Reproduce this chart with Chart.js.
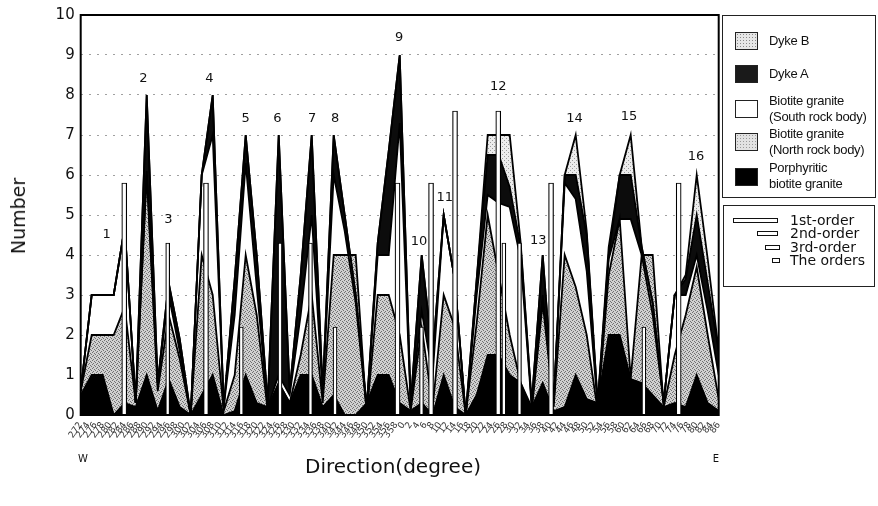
<!DOCTYPE html>
<html>
<head>
<meta charset="utf-8">
<script src="https://cdn.jsdelivr.net/npm/chart.js@4.4.1/dist/chart.umd.min.js"></script>
<style>
  html, body { margin: 0; padding: 0; background: #fff; }
  #wrap { position: relative; width: 878px; height: 506px; overflow: hidden; font-family: "DejaVu Sans", sans-serif; color: #111; }
  canvas { position: absolute; left: 0; top: 0; }
  .t { position: absolute; white-space: nowrap; }
  .box { position: absolute; border: 1.5px solid #222; box-sizing: border-box; }
  .sw { position: absolute; width: 23px; height: 18px; border: 1px solid #222; box-sizing: border-box; }
  .lg { position: absolute; font-family: "Liberation Sans", sans-serif; font-size: 13px; line-height: 16px; letter-spacing: -0.3px; color: #111; }
  .bsw { position: absolute; height: 5px; background: #fff; border: 1px solid #111; box-sizing: border-box; }
  .ol { position: absolute; font-size: 14px; line-height: 14px; color: #111; }
</style>
</head>
<body>
<div id="wrap">
  <canvas id="c" width="878" height="506"></canvas>
  <div class="t" style="left:18px; top:216px; font-size:19px; transform: translate(-50%,-50%) rotate(-90deg);">Number</div>
  <div class="t" style="left:393px; top:466px; font-size:20px; transform: translate(-50%,-50%);">Direction(degree)</div>
  <div class="t" style="left:83px; top:458px; font-size:10px; transform: translate(-50%,-50%);">W</div>
  <div class="t" style="left:716px; top:458px; font-size:10px; transform: translate(-50%,-50%);">E</div>

  <div class="box" style="left:722px; top:15px; width:154px; height:183px;"></div>
  <div class="sw" style="left:735px; top:32px; background-color:#e6e6e6; background-image: radial-gradient(#8a8a8a 0.7px, transparent 0.9px); background-size: 3px 3px;"></div>
  <div class="lg" style="left:769px; top:33px;">Dyke B</div>
  <div class="sw" style="left:735px; top:65px; background:#1a1a1a;"></div>
  <div class="lg" style="left:769px; top:66px;">Dyke A</div>
  <div class="sw" style="left:735px; top:100px; background:#fff;"></div>
  <div class="lg" style="left:769px; top:93px;">Biotite granite<br>(South rock body)</div>
  <div class="sw" style="left:735px; top:133px; background-color:#e2e2e2; background-image: radial-gradient(#9a9a9a 0.7px, transparent 0.9px); background-size: 3px 3px;"></div>
  <div class="lg" style="left:769px; top:126px;">Biotite granite<br>(North rock body)</div>
  <div class="sw" style="left:735px; top:168px; background:#000;"></div>
  <div class="lg" style="left:769px; top:160px;">Porphyritic<br>biotite granite</div>

  <div class="box" style="left:723px; top:205px; width:152px; height:82px;"></div>
  <div class="bsw" style="left:733px; top:218px; width:45px;"></div>
  <div class="ol" style="left:790px; top:213px;">1st-order</div>
  <div class="bsw" style="left:757px; top:231px; width:21px;"></div>
  <div class="ol" style="left:790px; top:226px;">2nd-order</div>
  <div class="bsw" style="left:765px; top:245px; width:15px;"></div>
  <div class="ol" style="left:790px; top:240px;">3rd-order</div>
  <div class="bsw" style="left:772px; top:258px; width:8px;"></div>
  <div class="ol" style="left:790px; top:253px;">The orders</div>
</div>
<script>
// ---- data (59 direction classes, W -> E) ----
const porphyritic = [0.5,1,1,0,0.3,0.2,1,0.1,0.9,0.2, 0,0.5,1,0,0.1,1,0.3,0.2,0.8,0.3, 1,1,0.2,0.5,0,0,0.3,1,1,0.3, 0.1,0.3,0,1,0.2,0,0.5,1.5,1.5,1, 0.8,0.2,0.8,0.1,0.2,1,0.4,0.3,2,2, 0.9,0.8,0.5,0.2,0.3,0.2,1,0.3,0.1];
const northBody   = [0.6,2,2,2,2.7,0.3,6,0.6,2.5,1.4, 0,4,3,0.1,1,4,2.5,0.1,0.8,0.3, 1.5,3,0.3,4,4,4,0,3,3,2, 0.1,2.2,0.2,3,2.2,0,2.3,5,3.5,2, 0.8,0.1,2.8,0.2,4,3.2,2,0.1,3.5,4.9, 0.9,4,4,0.2,1.5,2.5,3.7,2,0.4];
const southBody   = [0.6,3,3,3,4.7,0.3,6.1,0.8,3,1.6, 0,6,7,0.2,2.5,6.3,3.2,0.2,1,0.5, 2.5,5,0.5,6,4.6,2.8,0.1,4,4,7.3, 0.2,2.6,1,5,3.4,0,3,5.5,5.3,5.2, 3.9,0.2,3,0.3,5.8,5.4,3.6,0.2,3.9,4.9, 4.9,4,2.5,0.3,3,3,4,2.6,1];
const dykeA       = [0.6,3,3,3,4.7,0.3,8,0.8,3.3,1.9, 0,6,8,0.2,3.4,7,4,0.3,7,0.6, 3.5,7,0.6,7,5,3,0.2,4.3,6.6,9, 0.3,4,1.5,5,3.4,0,3.4,6.5,6.5,5.7, 4.2,0.3,4,0.3,6,6,4.5,0.3,4,6, 6,4.2,2.8,0.3,3,3.4,5,3.3,1.6];
const dykeB       = [0.6,3,3,3,4.7,0.3,8,0.8,3.3,1.9, 0,6,8,0.2,3.4,7,4,0.3,7,0.6, 3.5,7,0.6,7,5,3,0.2,4.3,6.6,9, 0.3,4,1.5,5,3.4,0,3.4,7,7,7, 4.3,0.3,4,0.3,6,7,4.6,0.3,4.2,6, 7,4.2,2.8,0.3,3,3.5,6,3.9,1.6];

// fault orders (position in direction classes, height)
const order1X = [34.03, 37.96];              const order1Y = [7.6, 7.6];
const order2X = [3.96, 11.39, 28.8, 31.85, 42.76, 54.36]; const order2Y = [5.8, 5.8, 5.8, 5.8, 5.8, 5.8];
const order3X = [7.91, 18.12, 20.89, 38.47, 39.89];       const order3Y = [4.3, 4.3, 4.3, 4.3, 4.3];
const ordersX = [14.6, 23.12, 30.98, 51.2];               const ordersY = [2.2, 2.2, 2.2, 2.2];

// peak numbers
const peakText = ['1','2','3','4','5','6','7','8','9','10','11','12','13','14','15','16'];
const peakX = [2.36, 5.69, 7.97, 11.69, 15.0, 17.88, 21.05, 23.12, 28.94, 30.75, 33.1, 37.96, 41.6, 44.9, 49.85, 55.94];
const peakY = [4.5, 8.4, 4.89, 8.4, 7.42, 7.42, 7.42, 7.42, 9.44, 4.33, 5.44, 8.2, 4.35, 7.42, 7.45, 6.46];

// direction tick labels
const dirLabels = ['272','274','276','278','280','282','284','286','288','290','292','294','296','298','300','302','304','306','308','310','312','314','316','318','320','322','324','326','328','330','332','334','336','338','340','342','344','346','348','350','352','354','356','358',
  '0','2','4','6','8','10','12','14','16','18','20','22','24','26','28','30','32','34','36','38','40','42','44','46','48','50','52','54','56','58','60','62','64','66','68','70','72','74','76','78','80','82','84','86'];
const yTicks = [0,1,2,3,4,5,6,7,8,9,10];

// ---- styling helpers ----
function stipple(base, dot, pts) {
  const c = document.createElement('canvas');
  c.width = 4; c.height = 4;
  const g = c.getContext('2d');
  g.fillStyle = base; g.fillRect(0, 0, 4, 4);
  g.fillStyle = dot;
  pts.forEach(p => g.fillRect(p[0], p[1], 1, 1));
  return g.createPattern(c, 'repeat');
}
const ctx = document.getElementById('c').getContext('2d');
const northFill = stipple('#d0d0d0', '#707070', [[0,0],[2,1],[1,3],[3,2]]);
const dykeBFill = stipple('#ececec', '#9c9c9c', [[0,0],[2,2]]);

const toPts = arr => arr.map((v, i) => ({ x: i, y: v }));
const toBars = (xs, ys) => xs.map((x, i) => ({ x: x, y: ys[i] }));
const lastX = porphyritic.length - 1;

function area(label, arr, fill, ord) {
  return { type: 'line', label, data: toPts(arr), backgroundColor: fill, borderColor: '#000',
    borderWidth: 1.8, pointRadius: 0, tension: 0, fill: 'origin', order: ord };
}
function bars(label, xs, ys, w) {
  return { type: 'bar', label, data: toBars(xs, ys), backgroundColor: '#fff', borderColor: '#000',
    borderWidth: 1.2, grouped: false, barPercentage: 1, categoryPercentage: 1, maxBarThickness: w, order: -1 };
}

const framePlugin = {
  id: 'frame',
  afterDraw(chart) {
    const a = chart.chartArea, g = chart.ctx;
    g.save(); g.strokeStyle = '#000'; g.lineWidth = 2;
    g.strokeRect(a.left, a.top, a.right - a.left, a.bottom - a.top);
    g.restore();
  }
};
const peakPlugin = {
  id: 'peaks',
  afterDatasetsDraw(chart) {
    const g = chart.ctx, xs = chart.scales.x, ys = chart.scales.y;
    g.save();
    g.font = '13px "DejaVu Sans", sans-serif';
    g.fillStyle = '#111'; g.textAlign = 'center'; g.textBaseline = 'middle';
    peakText.forEach((t, k) => g.fillText(t, xs.getPixelForValue(peakX[k]), ys.getPixelForValue(peakY[k])));
    g.restore();
  }
};

new Chart(ctx, {
  type: 'line',
  data: {
    datasets: [
      area('Porphyritic biotite granite', porphyritic, '#000', 0),
      area('Biotite granite (North rock body)', northBody, northFill, 1),
      area('Biotite granite (South rock body)', southBody, '#fff', 2),
      area('Dyke A', dykeA, '#0c0c0c', 3),
      area('Dyke B', dykeB, dykeBFill, 4),
      bars('1st-order', order1X, order1Y, 5),
      bars('2nd-order', order2X, order2Y, 5),
      bars('3rd-order', order3X, order3Y, 4),
      bars('The orders', ordersX, ordersY, 4)
    ]
  },
  options: {
    responsive: false,
    animation: false,
    devicePixelRatio: 1,
    layout: { padding: { left: 0, right: 159.3, top: 15, bottom: 0 } },
    plugins: {
      legend: { display: false },
      tooltip: { enabled: false },
      filler: { drawTime: 'beforeDatasetsDraw' }
    },
    scales: {
      x: {
        type: 'linear', min: 0, max: lastX, offset: false,
        border: { display: false },
        grid: { display: false, drawTicks: false },
        afterFit: s => { s.height = 91; },
        afterBuildTicks: s => { s.ticks = dirLabels.map((l, k) => ({ value: k * lastX / (dirLabels.length - 1) })); },
        ticks: {
          autoSkip: false, minRotation: 55, maxRotation: 55, padding: 5,
          font: { family: 'DejaVu Sans', size: 9 }, color: '#333',
          callback: (v, i) => dirLabels[i]
        }
      },
      y: {
        min: 0, max: 10,
        border: { display: false, dash: [2, 6] },
        afterFit: s => { s.width = 80.7; },
        afterBuildTicks: s => { s.ticks = yTicks.map(v => ({ value: v })); },
        grid: { color: '#a0a0a0', lineWidth: 1, drawTicks: false },
        ticks: { padding: 6, font: { family: 'DejaVu Sans', size: 15 }, color: '#111' }
      }
    }
  },
  plugins: [framePlugin, peakPlugin]
});
</script>
</body>
</html>
